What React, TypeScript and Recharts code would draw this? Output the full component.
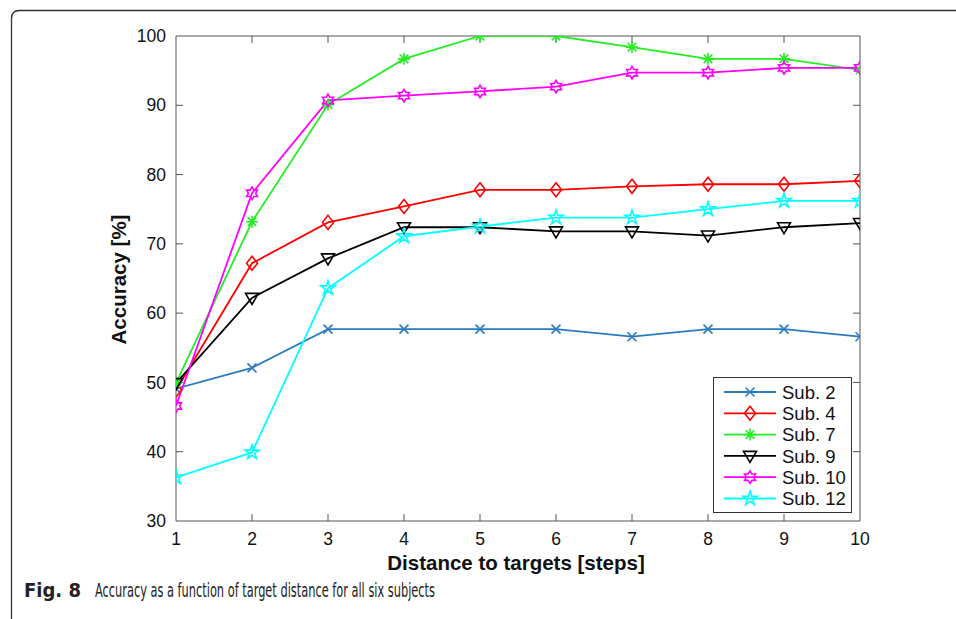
import React from 'react';
import { LineChart, Line, XAxis, YAxis, ReferenceArea, ReferenceLine, Legend, Label } from 'recharts';

const distances = [1, 2, 3, 4, 5, 6, 7, 8, 9, 10];
const sub2 = [49.1, 52.1, 57.7, 57.7, 57.7, 57.7, 56.6, 57.7, 57.7, 56.6];
const sub4 = [48.9, 67.2, 73.1, 75.4, 77.8, 77.8, 78.3, 78.6, 78.6, 79.1];
const sub7 = [49.9, 73.2, 90.1, 96.7, 100, 100, 98.4, 96.7, 96.7, 95.1];
const sub9 = [49.9, 62.2, 67.9, 72.4, 72.4, 71.8, 71.8, 71.2, 72.4, 73.0];
const sub10 = [46.6, 77.3, 90.7, 91.4, 92.0, 92.7, 94.7, 94.7, 95.4, 95.4];
const sub12 = [36.3, 39.9, 63.6, 71.1, 72.5, 73.8, 73.8, 75.0, 76.2, 76.2];

const xTicks = [1, 2, 3, 4, 5, 6, 7, 8, 9, 10];
const yTicks = [30, 40, 50, 60, 70, 80, 90, 100];

const seriesNames = ['Sub. 2', 'Sub. 4', 'Sub. 7', 'Sub. 9', 'Sub. 10', 'Sub. 12'];
const seriesColors = ['#2b7bc1', '#ff0000', '#22ee22', '#000000', '#ff00ff', '#00ffff'];
const seriesMarkers = ['x', 'diamond', 'asterisk', 'triangleDown', 'hexagram', 'pentagram'];
const seriesValues = [sub2, sub4, sub7, sub9, sub10, sub12];

const captionLabel = 'Fig. 8';
const captionText = 'Accuracy as a function of target distance for all six subjects';

const data = distances.map((d, i) => {
  const row: any = { d };
  seriesValues.forEach((vals, k) => {
    row['s' + k] = vals[i];
  });
  return row;
});

const AXIS_COLOR = '#555';
const TICK_FONT = '"Liberation Sans", Arial, Helvetica, sans-serif';
const CAPTION_FONT = '"Liberation Sans Narrow", "DejaVu Sans Condensed", "Noto Sans", sans-serif';

function starPoints(cx: number, cy: number, n: number, R: number, r: number) {
  const pts: string[] = [];
  for (let k = 0; k < 2 * n; k++) {
    const a = -Math.PI / 2 + (k * Math.PI) / n;
    const rad = k % 2 === 0 ? R : r;
    pts.push(`${(cx + rad * Math.cos(a)).toFixed(2)},${(cy + rad * Math.sin(a)).toFixed(2)}`);
  }
  return pts.join(' ');
}

function Marker({ kind, cx, cy, color }: { kind: string; cx: number; cy: number; color: string }) {
  const sw = 1.6;
  const common = { stroke: color, strokeWidth: sw, fill: 'none' };
  if (kind === 'x') {
    const r = 4.5;
    return <path d={`M${cx - r},${cy - r}L${cx + r},${cy + r}M${cx - r},${cy + r}L${cx + r},${cy - r}`} {...common} />;
  }
  if (kind === 'diamond') {
    return <path d={`M${cx},${cy - 7}L${cx + 5.5},${cy}L${cx},${cy + 7}L${cx - 5.5},${cy}Z`} {...common} />;
  }
  if (kind === 'asterisk') {
    const r = 6;
    const d = r * 0.72;
    return (
      <path
        d={`M${cx - r},${cy}L${cx + r},${cy}M${cx},${cy - r}L${cx},${cy + r}M${cx - d},${cy - d}L${cx + d},${cy + d}M${cx - d},${cy + d}L${cx + d},${cy - d}`}
        {...common}
      />
    );
  }
  if (kind === 'triangleDown') {
    return <polygon points={`${cx - 6.5},${cy - 4.5} ${cx + 6.5},${cy - 4.5} ${cx},${cy + 6.5}`} {...common} />;
  }
  if (kind === 'hexagram') {
    return <polygon points={starPoints(cx, cy, 6, 6.3, 6.3 / Math.sqrt(3))} {...common} />;
  }
  return <polygon points={starPoints(cx, cy, 5, 7.5, 7.5 * 0.382)} {...common} />;
}

const makeDot = (k: number) => (props: any) => {
  const { cx, cy, index } = props;
  if (cx == null || cy == null) return <g key={`d${k}-${index}`} />;
  return (
    <g key={`d${k}-${index}`}>
      <Marker kind={seriesMarkers[k]} cx={cx} cy={cy} color={seriesColors[k]} />
    </g>
  );
};

const LEGEND_W = 139;
const LEGEND_H = 136;

const renderLegend = (props: any) => {
  const payload: any[] = (props.payload || []).slice();
  payload.sort((a, b) => seriesNames.indexOf(a.value) - seriesNames.indexOf(b.value));
  return (
    <svg width={LEGEND_W} height={LEGEND_H} style={{ display: 'block' }}>
      <rect x={0.5} y={0.5} width={LEGEND_W - 1} height={LEGEND_H - 1} fill="#fff" stroke="#333" strokeWidth={1} />
      {payload.map((p, i) => {
        const k = seriesNames.indexOf(p.value);
        const cy = 15 + i * 21.3;
        return (
          <g key={p.value}>
            <line x1={11} x2={63} y1={cy} y2={cy} stroke={seriesColors[k]} strokeWidth={1.8} />
            <Marker kind={seriesMarkers[k]} cx={37} cy={cy} color={seriesColors[k]} />
            <text x={69} y={cy} dy="0.36em" fontFamily={TICK_FONT} fontSize={18.5} fill="#111">
              {p.value}
            </text>
          </g>
        );
      })}
    </svg>
  );
};

const tickShapeV = (props: any) => {
  const { x1, y1, y2 } = props;
  const top = Math.min(y1, y2);
  const bottom = Math.max(y1, y2);
  return (
    <g>
      <line x1={x1} x2={x1} y1={bottom} y2={bottom - 7} stroke={AXIS_COLOR} strokeWidth={1} />
      <line x1={x1} x2={x1} y1={top} y2={top + 7} stroke={AXIS_COLOR} strokeWidth={1} />
    </g>
  );
};

const tickShapeH = (props: any) => {
  const { x1, x2, y1 } = props;
  const left = Math.min(x1, x2);
  const right = Math.max(x1, x2);
  return (
    <g>
      <line x1={left} x2={left + 7} y1={y1} y2={y1} stroke={AXIS_COLOR} strokeWidth={1} />
      <line x1={right} x2={right - 7} y1={y1} y2={y1} stroke={AXIS_COLOR} strokeWidth={1} />
    </g>
  );
};

const renderXLabel = (props: any) => {
  const vb = props.viewBox || {};
  return (
    <text
      x={vb.x + vb.width / 2 - 2}
      y={vb.y + 49}
      textAnchor="middle"
      fontFamily={TICK_FONT}
      fontWeight="bold"
      fontSize={20.5}
      fill="#111"
    >
      Distance to targets [steps]
    </text>
  );
};

const renderYLabel = (props: any) => {
  const vb = props.viewBox || {};
  const cx = vb.x + 126;
  const cy = vb.y + vb.height / 2 + 1;
  return (
    <text
      x={cx}
      y={cy}
      transform={`rotate(-90, ${cx}, ${cy})`}
      textAnchor="middle"
      fontFamily={TICK_FONT}
      fontWeight="bold"
      fontSize={20.5}
      fill="#111"
    >
      Accuracy [%]
    </text>
  );
};

export default function App() {
  return (
    <div style={{ position: 'absolute', left: 0, top: 0, width: 956, height: 619, background: '#fff', overflow: 'hidden' }}>
      <svg width={956} height={619} style={{ position: 'absolute', left: 0, top: 0 }}>
        <path d="M11.5,619 L11.5,18.5 Q11.5,10.5 19.5,10.5 L956,10.5" fill="none" stroke="#333" strokeWidth={1.3} />
        <text x={24} y={597} fontFamily={CAPTION_FONT} fontWeight="bold" fontSize={20} fill="#222">
          {captionLabel}
        </text>
        <text x={95} y={597} fontFamily={CAPTION_FONT} fontSize={19.5} fill="#222" textLength={340} lengthAdjust="spacingAndGlyphs">
          {captionText}
        </text>
      </svg>
      <div style={{ position: 'absolute', left: 0, top: 0 }}>
        <LineChart width={956} height={619} data={data} margin={{ top: 36, right: 96, bottom: 38, left: 0 }}>
          <XAxis
            dataKey="d"
            type="number"
            domain={[1, 10]}
            ticks={xTicks}
            interval={0}
            allowDataOverflow
            height={60}
            tickSize={0}
            tickMargin={12}
            tickLine={false}
            axisLine={false}
            tick={{ fontFamily: TICK_FONT, fontSize: 17.5, fill: '#111' }}
            label={<Label content={renderXLabel} />}
          />
          <YAxis
            type="number"
            domain={[30, 100]}
            ticks={yTicks}
            interval={0}
            allowDataOverflow
            width={176}
            tickSize={0}
            tickMargin={10}
            tickLine={false}
            axisLine={false}
            tick={{ fontFamily: TICK_FONT, fontSize: 17.5, fill: '#111' }}
            label={<Label content={renderYLabel} />}
          />
          <ReferenceArea x1={1} x2={10} y1={30} y2={100} fill="none" stroke={AXIS_COLOR} strokeWidth={1} />
          {xTicks.slice(1, -1).map((t) => (
            <ReferenceLine key={`xt${t}`} x={t} shape={tickShapeV} />
          ))}
          {yTicks.slice(1, -1).map((t) => (
            <ReferenceLine key={`yt${t}`} y={t} shape={tickShapeH} />
          ))}
          {seriesNames.map((name, k) => (
            <Line
              key={name}
              name={name}
              dataKey={'s' + k}
              type="linear"
              stroke={seriesColors[k]}
              strokeWidth={1.8}
              dot={makeDot(k)}
              activeDot={false}
              isAnimationActive={false}
            />
          ))}
          <Legend
            layout="vertical"
            align="center"
            verticalAlign="middle"
            content={renderLegend}
            wrapperStyle={{ left: 713, top: 377, width: LEGEND_W, height: LEGEND_H }}
          />
        </LineChart>
      </div>
    </div>
  );
}
